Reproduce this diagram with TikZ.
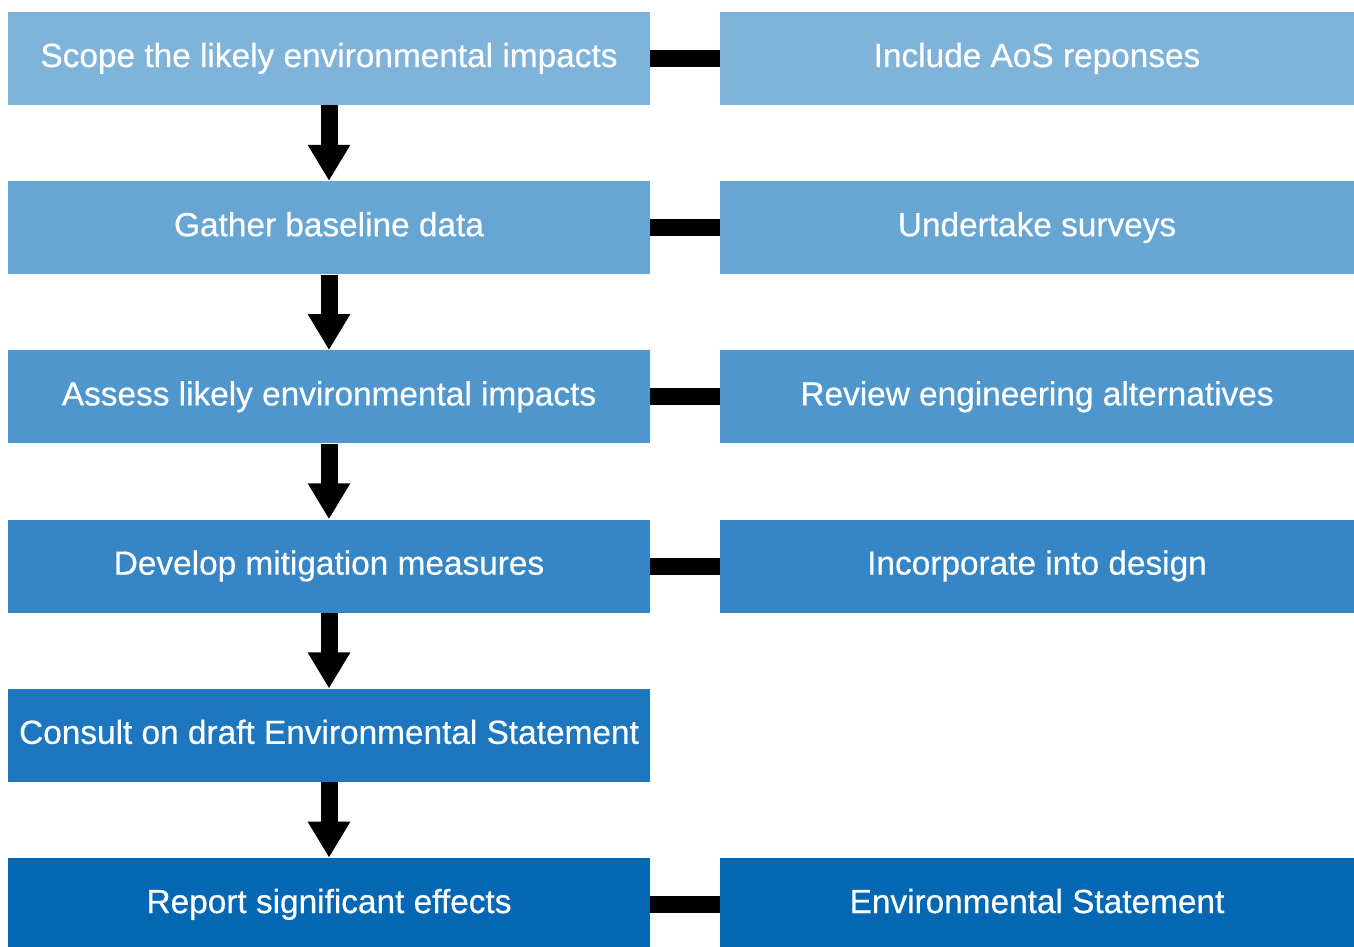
\documentclass[tikz,border=0pt]{standalone}
\usepackage{fontspec}
\setmainfont{Liberation Sans}
\newfontfamily\boxfont{Liberation Sans}[FakeBold=0.5]
\usetikzlibrary{arrows.meta}
\definecolor{rowa}{RGB}{128,179,218}
\definecolor{rowb}{RGB}{103,165,210}
\definecolor{rowc}{RGB}{79,150,204}
\definecolor{rowd}{RGB}{54,134,197}
\definecolor{rowe}{RGB}{29,118,190}
\definecolor{rowf}{RGB}{4,103,180}
\begin{document}
\begin{tikzpicture}[x=0.02cm, y=-0.02cm,
    task/.style={fill=#1, text=white, inner sep=0pt, minimum width=12.84cm,
      minimum height=1.86cm, text height=0.5cm, text depth=0.16cm,
      font=\boxfont\fontsize{19}{23}\selectfont},
    flow/.style={line width=0.34cm, -{Triangle[width=0.8cm,length=0.72cm]}},
    link/.style={line width=0.34cm}]
  \useasboundingbox (0,0) rectangle (1354,946);
  \foreach \i/\c/\txt in {1/rowa/Scope the likely environmental impacts,
      2/rowb/Gather baseline data, 3/rowc/Assess likely environmental impacts,
      4/rowd/Develop mitigation measures, 5/rowe/Consult on draft Environmental Statement,
      6/rowf/Report significant effects}
    \node[task=\c] (s\i) at (329,{58.5+169.2*(\i-1)}) {\txt};
  \foreach \i/\c/\txt in {1/rowa/Include AoS reponses, 2/rowb/Undertake surveys,
      3/rowc/Review engineering alternatives, 4/rowd/Incorporate into design,
      6/rowf/Environmental Statement}
    \node[task=\c, minimum width=12.68cm] (r\i) at (1037,{58.5+169.2*(\i-1)}) {\txt};
  \foreach \i [evaluate=\i as \j using int(\i+1)] in {1,...,5}
    \draw[flow] (s\i) -- (s\j);
  \foreach \i in {1,2,3,4,6}
    \draw[link] (s\i) -- (r\i);
\end{tikzpicture}
\end{document}
